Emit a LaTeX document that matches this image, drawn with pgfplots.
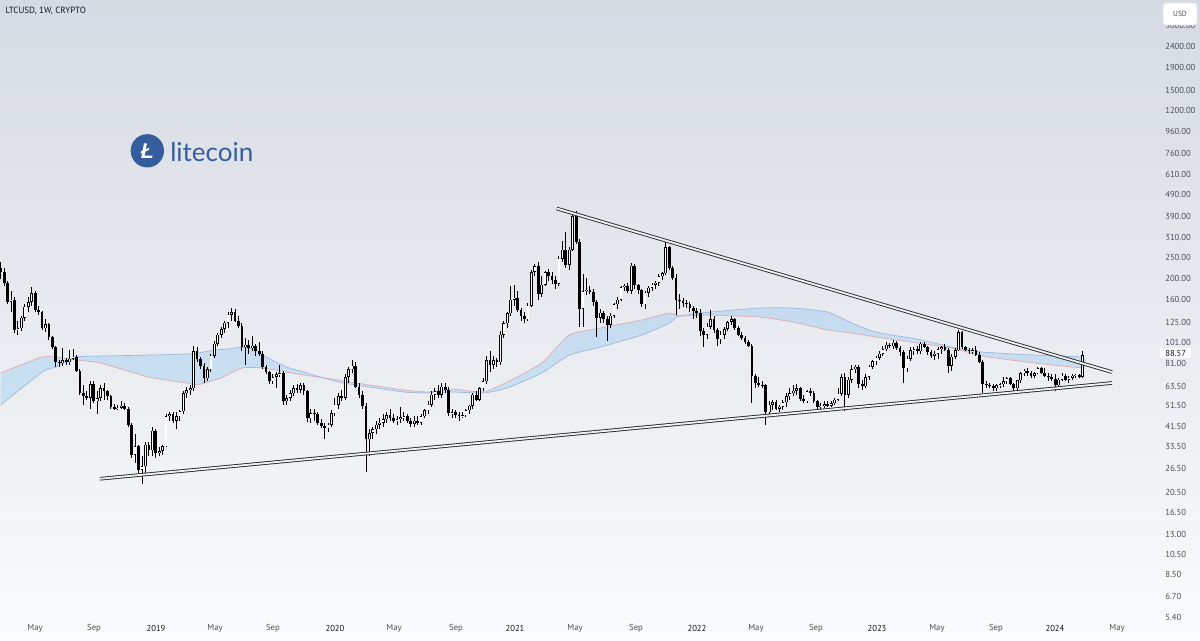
\documentclass[border=0pt]{standalone}
\usepackage{pgfplots}
\pgfplotsset{compat=1.18}
\usepackage{pgfplotstable}
\usepackage{fontspec}
\setmainfont{PT Sans}
\newfontfamily\lato{Lato}
\newfontfamily\libsans{Liberation Sans}
\definecolor{bgtop}{HTML}{D6DAE2}
\definecolor{bgbot}{HTML}{FAFBFC}
\definecolor{ltc}{HTML}{345D9D}
\definecolor{txt}{HTML}{131722}
\definecolor{txtgray}{HTML}{4A4D57}
\definecolor{maRed}{HTML}{E0A8AE}
\definecolor{maBlue}{HTML}{9DB6E0}
\definecolor{bandfill}{HTML}{2196F3}
\definecolor{gapcol}{HTML}{EEF0F3}

% weekly candles, x = week index (0 = week of 19 Feb 2018)
\pgfplotstableread{
i o h l c
3 156 175 140 160
5 116 128 110 118
6 118 135 114 132
7 132 152 128 148
8 148 165 140 156
9 156 184 150 171
13 118 130 113 123
18 81 95 79 84
20 82 93 80 85
21 85 94 84 87
26 56 67 50 65
28 54 60 47 56
29 56 64 54 62
34 50 52 49 50.5
35 50.5 54 50 51.5
39 30.5 38 28 33.5
41 26 30 22.3 27
42 27 35 25 34
44 32 41 30 39.5
46 31 33 30 31.8
47 31.8 34 30.5 33.5
48 33.5 47 33 46
49 46 48 44 47
51 44 48 40 46
52 46 49 44 48.5
53 48.5 60 47 59
54 59 63 56 61
55 61 64 58 62
56 62 98 60 92
60 69 78 67 76
61 76 90 74 88
62 88 103 86 100
63 100 112 97 110
64 110 120 106 117
65 117 128 112 125
66 125 140 118 136
67 136 146 128 140
71 96 106 80 99
73 95 108 92 98
79 67 72 65 70
80 70 74 62 72
81 72 80 70 73
83 54 58 52 56
84 56 61 54 59
85 59 64 57 62
87 61 66 59 64
90 45 50 43 47.5
95 40.5 43 39 42
96 42 49 41 47.5
97 47.5 56 46 52
98 52 59 50 57
100 56 72 55 70
101 70 78 66 76
102 76 84 73 79
107 36 40 30 38.5
108 38.5 41 36 40
109 40 44 38 42
110 42 45 40 43
111 43 47 41 44.5
112 44.5 48 43 46.5
115 44 46 42 44.5
116 44.5 51 43 45.5
117 45.5 48 44 46
120 42.5 46 41 44
122 43 47 42 46
123 46 50 45 49
124 49 54 47 52
125 52 60 51 58
126 58 62 55 60
128 58 66 56 63
131 47.5 50 45 48
134 46 48 45 46.5
135 46.5 50 45.5 49
136 49 52 47 51.5
137 51.5 59 50 58
139 55 63 54 62
140 62 69 60 67
141 67 88 65 84
143 80 88 76 84
145 82 115 80 110
146 110 128 106 124
147 124 140 118 138
148 138 185 135 160
149 160 187 150 163
153 130 155 128 150
154 150 220 148 215
155 215 235 205 228
157 170 205 165 188
158 188 218 185 214
162 190 255 185 248
163 248 300 240 272
165 232 280 220 272
166 272 400 268 390
169 145 210 120 175
170 175 202 168 178
174 132 145 125 139
177 122 138 118 135
178 135 155 132 152
179 152 165 145 160
180 160 186 158 183
181 183 190 175 186
183 176 237 170 230
187 152 175 145 172
188 172 185 165 182
189 182 192 175 188
190 188 195 180 192
191 192 210 185 205
192 205 215 198 212
193 212 296 208 280
205 110 125 105 120
206 120 143 117 130
209 105 115 100 110
210 110 120 105 117
211 117 128 114 126
212 126 135 122 130
223 48 54 46 52
224 52 55 49 53.5
226 50 52 48 51
227 51 55 49.5 53.5
228 53.5 59 51 57
229 57 62 55 59
230 59 64 57 60.5
231 60.5 65 58 62
234 54 61 53 60
238 51 53 49 51.5
239 51.5 54 50.5 52.5
241 51.5 54 51 53
242 53 56 52 55
243 55 62 54 58.5
244 58.5 72 57 70
246 58 70 56 68
247 68 80 66 76
248 76 80 73 78
251 63.5 72 62 70
252 70 80 68 78
253 78 84 76 83
254 83 88 80 86
255 86 92 84 90
256 90 97 88 94
257 94 102 92 99
259 97 104 94 101
263 77 88 74 85
264 85 96 83 93
265 93 96 89 94
267 92 102 90 100
271 88 92 84 90
272 90 96 85 94
273 94 98 90 96
276 79 90 75 87
277 87 95 85 93
278 93 116 92 113
282 92 95 90 93.5
289 62 65 60 64
290 64 66 62 64.7
291 64.7 70 63 67
292 67 70 65 69
295 62 68 61 67.5
296 67.5 74 66 73
297 73 76 71 75
300 71 74 69 73
301 73 78 72 77
307 64 69 63 68
308 68 73 67 71
310 68 71 66 69.5
311 69.5 72 68 71
312 71 72 69 71.5
314 70 92 69 88.57
}\upc

\pgfplotstableread{
i o h l c
0 225 240 200 215
1 215 225 185 192
2 192 196 152 156
4 160 164 112 116
10 171 175 140 143
11 143 150 136 140
12 140 142 116 118
14 123 125 104 107
15 107 109 94 96
16 96 98 78 82
17 82 84 78 81
19 84 86 80 82
22 87 89 74 75
23 75 76 58 59
24 59 64 52 57
25 57 60 55 56
27 65 67 53 54
30 62 66 55 60
31 60 61 55 57
32 57 58 50 51
33 51 52.5 49 50
36 51.5 53 49 50
37 50 51 41 42
38 42 43 29.5 30.5
40 33.5 34 25 26
43 34 35 30 32
45 39.5 40 29.5 31
50 47 48 43 44
57 92 96 82 85
58 85 87 76 79
59 79 81 66 69
68 140 144 126 128
69 128 134 118 121
70 121 124 92 96
72 99 104 90 95
74 98 100 88 92
75 92 102 88 90
76 90 92 76 78
77 78 80 72 74
78 74 75 65 67
82 73 75 52 54
86 62 65 59 61
88 64 66 58 60
89 60 61 43.5 45
91 47.5 50 44 47
92 47 48 42 43
93 43 44.5 40.5 41.5
94 41.5 43 36 40.5
99 57 61 54 56
103 79 82 62 63
104 63 66 56 57.5
105 57.5 60 50 51.5
106 51.5 53 25.5 36
113 46.5 50 44 45
114 45 47 43 44
118 46 47 43 44
119 44 45 41 42.5
121 44 46 42 43
127 60 64 56 58
129 63 66 59 61
130 61 63 46 47.5
132 48 49 45 46.5
133 46.5 48 44 46
138 58 60 54 55
142 84 92 74 80
144 84 86 78 82
150 163 175 140 143
151 143 146 128 135
152 135 140 125 130
156 228 240 160 170
159 214 222 195 205
160 205 215 190 197
161 197 205 180 190
164 272 330 225 232
167 390 413 290 296
168 296 305 120 145
171 178 185 170 174
172 174 180 150 156
173 156 160 107 132
175 139 142 125 130
176 130 134 103 122
182 186 192 172 176
184 230 234 180 187
185 187 190 170 178
186 178 180 148 152
194 280 285 220 224
195 224 230 198 202
196 202 210 136 160
197 160 170 145 157
198 157 162 148 154
199 154 160 146 152
200 152 156 140 146
201 146 150 130 141
202 141 146 132 139
203 139 144 108 114
204 114 118 96 110
207 130 134 112 116
208 116 118 98 105
213 130 132 116 118
214 118 121 108 110
215 110 113 104 106
216 106 108 100 102
217 102 104 96 97
218 97 100 53 71
219 71 72 62 66
220 66 70 63 64.5
221 64.5 67 62 64
222 64 65 42 48
225 53.5 55 49 50
232 62 63 54 55.5
233 55.5 58 53 54
235 60 62 57 59
236 59 60 53 54
237 54 55 50 51
240 52.5 54 51 51.5
245 70 73 48.5 58
249 78 80 62 65
250 65 68 61 63.5
258 99 101 95 97
260 101 103 93 95
261 95 97 88 91
262 91 93 66 77
266 94 97 90 92
268 100 102 95 96
269 96 98 89 91
270 91 93 86 88
274 96 100 92 93
275 93 95 73 79
279 113 115 94 96
280 96 98 92 93
281 93 95 90 92
283 93.5 97 88 89
284 89 91 81 82
285 82 84 59 65
286 65 67 62 64
287 64 66 62 63.5
288 63.5 65 60 62
293 69 70 64 65
294 65 66 60 62
298 75 77 71 73
299 73 75 69 71
302 77 78 72 73
303 73 77 70 71
304 71 73 67 70
305 70 72 67 68.5
306 68.5 72 60 64
309 71 72 67 68
313 71.5 72 69 70
}\downc

% moving-average band edges
\pgfplotstableread{
i v
0 73.1
12 86.7
16 86.7
22 83.9
29 81.3
43 70.0
54 65.7
57 64.3
62 67.8
64 69.3
70 77.1
76 77.1
83 73.8
88 71.5
98 67.8
107 64.3
117 61.0
124 59.7
131 61.6
140 59.7
147 66.4
157 81.3
165 109.6
174 118.1
186 128.7
194 138.7
197 134.3
206 135.7
220 132.9
230 125.9
240 115.6
247 112.0
254 107.3
266 100.7
276 95.4
285 87.6
300 81.3
314 77.1
}\maA

\pgfplotstableread{
i v
0 51.9
12 73.8
16 77.9
22 86.7
29 87.6
43 88.5
54 89.5
57 90.4
62 93.4
66 94.4
70 96.4
74 93.4
77 86.7
83 77.9
88 73.8
98 66.4
107 62.9
117 59.7
124 59.0
131 59.7
140 59.0
147 62.3
157 73.1
165 88.5
174 96.4
186 109.6
194 124.6
197 134.3
206 140.1
220 146.2
230 146.2
240 140.1
247 124.6
254 113.0
266 105.0
276 96.4
285 91.4
300 88.5
314 86.7
}\maB

% the band between the two averages as one outline: first edge forward, second edge back
\pgfplotstableread{
i v
0 73.1
12 86.7
16 86.7
22 83.9
29 81.3
43 70.0
54 65.7
57 64.3
62 67.8
64 69.3
70 77.1
76 77.1
83 73.8
88 71.5
98 67.8
107 64.3
117 61.0
124 59.7
131 61.6
140 59.7
147 66.4
157 81.3
165 109.6
174 118.1
186 128.7
194 138.7
197 134.3
206 135.7
220 132.9
230 125.9
240 115.6
247 112.0
254 107.3
266 100.7
276 95.4
285 87.6
300 81.3
314 77.1
314 86.7
300 88.5
285 91.4
276 96.4
266 105.0
254 113.0
247 124.6
240 140.1
230 146.2
220 146.2
206 140.1
197 134.3
194 124.6
186 109.6
174 96.4
165 88.5
157 73.1
147 62.3
140 59.0
131 59.7
124 59.0
117 59.7
107 62.9
98 66.4
88 73.8
83 77.9
77 86.7
74 93.4
70 96.4
66 94.4
62 93.4
57 90.4
54 89.5
43 88.5
29 87.6
22 86.7
16 77.9
12 73.8
0 51.9
}\band

\begin{document}
\begin{tikzpicture}
\shade[top color=bgtop, bottom color=bgbot] (0,0) rectangle (900pt,480.75pt);
\begin{axis}[
  at={(0pt,14.25pt)}, anchor=south west,
  scale only axis, width=855pt, height=466.5pt,
  xmin=-0.2, xmax=330.62,
  ymode=log, ymin=5.121, ymax=3922,
  axis line style={draw=none},
  tick style={draw=none}, major tick length=0pt,
  clip mode=individual,
  xtick={9.96,27.08,45.07,62.19,79.02,97.01,114.14,132.13,149.25,166.66,184.36,202.06,219.18,236.59,254.3,271.7,288.8,305.95,323.94},
  xticklabels={May,Sep,{\color{txt}2019},May,Sep,{\color{txt}2020},May,Sep,{\color{txt}2021},May,Sep,{\color{txt}2022},May,Sep,{\color{txt}2023},May,Sep,{\color{txt}2024},May},
  xticklabel style={anchor=center, yshift=-4.5pt, inner sep=0pt, text=txtgray, font=\fontsize{6.5pt}{7pt}\selectfont},
  yticklabel pos=right,
  ytick={5.4,6.7,8.5,10.5,13,16.5,20.5,26.5,33.5,41.5,51.5,63.5,81,101,125,160,200,250,310,390,490,610,760,960,1200,1500,1900,2400,3000},
  yticklabels={5.40,6.70,8.50,10.50,13.00,16.50,20.50,26.50,33.50,41.50,51.50,63.50,81.00,101.00,125.00,160.00,200.00,250.00,310.00,390.00,490.00,610.00,760.00,960.00,1200.00,1500.00,1900.00,2400.00,3000.00},
  yticklabel style={anchor=west, xshift=18.75pt, inner sep=0pt, text=txtgray, font=\fontsize{6.5pt}{7pt}\selectfont},
]
% moving-average band
\addplot[fill=bandfill, fill opacity=0.17, draw=none, smooth, tension=0.35] table[x=i, y=v] {\band};
\addplot[draw=maRed, line width=0.5pt, smooth, tension=0.35] table[x=i, y=v] {\maA};
\addplot[draw=maBlue, line width=0.5pt, smooth, tension=0.35] table[x=i, y=v] {\maB};

% wicks
\addplot[draw=none, mark=none, error bars/.cd, y dir=plus, y explicit, error mark=none,
  error bar style={draw=black, line width=0.7pt}]
  table[x=i, y=l, y error expr=\thisrow{h}-\thisrow{l}] {\downc};
\addplot[draw=none, mark=none, error bars/.cd, y dir=plus, y explicit, error mark=none,
  error bar style={draw=black, line width=0.7pt}]
  table[x=i, y=l, y error expr=\thisrow{h}-\thisrow{l}] {\upc};
% bodies of falling weeks
\addplot[draw=none, mark=none, error bars/.cd, y dir=plus, y explicit, error mark=none,
  error bar style={draw=black, line width=2.05pt, line cap=butt}]
  table[x=i, y=c, y error expr=\thisrow{o}-\thisrow{c}] {\downc};
% bodies of rising weeks: outline then hollow inside
\addplot[draw=none, mark=none, error bars/.cd, y dir=plus, y explicit, error mark=none,
  error bar style={draw=black, line width=2.05pt, line cap=butt}]
  table[x=i, y=o, y error expr=\thisrow{c}-\thisrow{o}] {\upc};
\addplot[draw=none, mark=none, error bars/.cd, y dir=plus, y explicit, error mark=none,
  error bar style={draw=white, line width=1.05pt, line cap=butt}]
  table[x=i, y expr=\thisrow{o}*1.006, y error expr=\thisrow{c}*0.994-\thisrow{o}*1.006] {\upc};

% triangle trendlines
\addplot[draw=black!85, line width=0.65pt, double=gapcol, double distance=1.4pt] coordinates {(161.35,423.3) (322.5,73.8)};
\addplot[draw=black!85, line width=0.65pt, double=gapcol, double distance=1.4pt] coordinates {(28.8,23.63) (322.5,65.7)};
\end{axis}

% header
\node[anchor=west, inner sep=0pt, text=txt, font=\fontsize{6.75pt}{8pt}\selectfont] at (3.75pt,472.5pt) {LTCUSD, 1W, CRYPTO};
% currency box
\draw[fill=white, draw=black!12, rounded corners=2pt] (872.25pt,462pt) rectangle (897.75pt,478.5pt);
\node[text=txtgray, font=\fontsize{5.6pt}{6pt}\selectfont] at (885pt,470.25pt) {USD};
% last price label
\node[anchor=west, fill=white, inner xsep=3.75pt, inner ysep=1.2pt, text=txt, font=\fontsize{6.5pt}{7pt}\selectfont] at (870pt,216pt) {88.57};
% logo
\fill[ltc] (110.5pt,367.65pt) circle (12.5pt);
\node[text=white, font=\libsans\bfseries\itshape\fontsize{16pt}{16pt}\selectfont] at (110.5pt,367.3pt) {Ł};
\node[anchor=base west, inner sep=0pt, text=ltc, font=\lato\fontsize{19.5pt}{20pt}\selectfont] at (127.5pt,359.5pt) {litecoin};

\pgfresetboundingbox
\useasboundingbox (0,0) rectangle (900pt,480.75pt);
\end{tikzpicture}
\end{document}
